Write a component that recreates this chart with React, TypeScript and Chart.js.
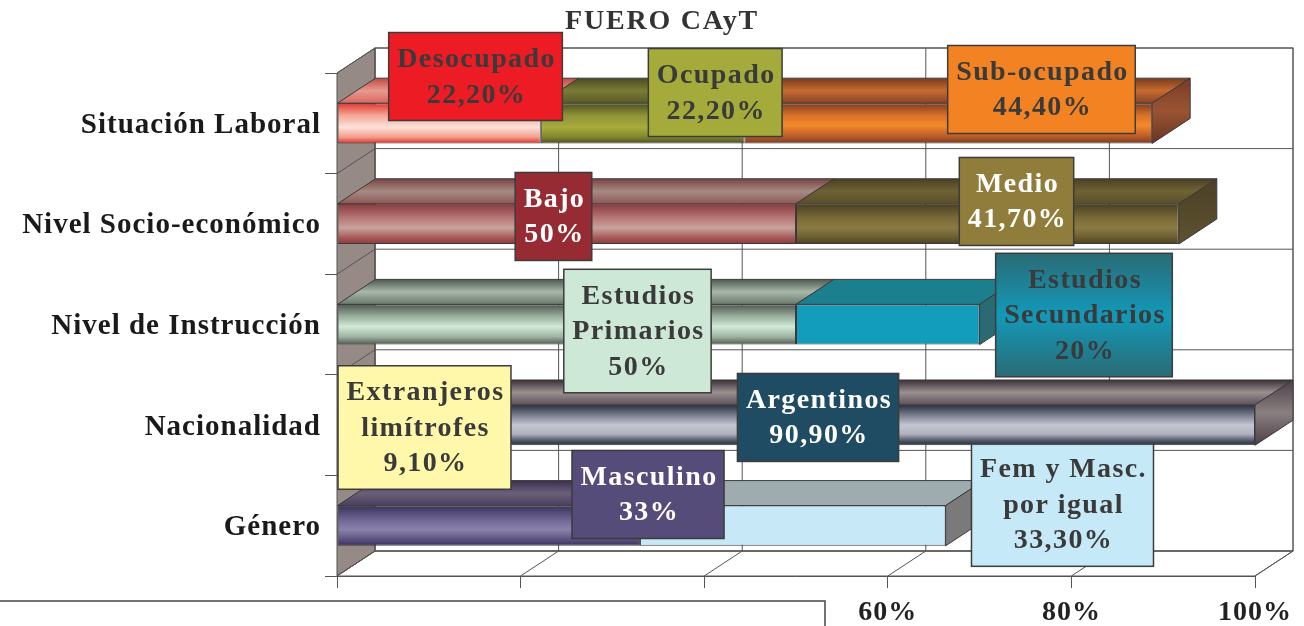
import React, { useEffect, useRef } from 'react';
import { Chart, registerables } from 'chart.js';

Chart.register(...registerables);

// ---------------- DATA ----------------
const chartTitle = 'FUERO CAyT';
const categories = ['Situación Laboral', 'Nivel Socio-económico', 'Nivel de Instrucción', 'Nacionalidad', 'Género'];

const firstNames = ['Desocupado', 'Bajo', 'Estudios\nPrimarios', 'Extranjeros\nlimítrofes', 'Masculino'];
const firstValues = [22.2, 50, 50, 9.1, 33];

const secondNames = ['Ocupado', 'Medio', 'Estudios\nSecundarios', 'Argentinos', 'Fem y Masc.\npor igual'];
const secondValues = [22.2, 41.7, 20, 90.9, 33.3];

const thirdNames: (string | null)[] = ['Sub-ocupado', null, null, null, null];
const thirdValues: (number | null)[] = [44.4, null, null, null, null];

const xTickValues = [0, 20, 40, 60, 80, 100];

// ---------------- STYLES ----------------
type Stops = [number, string][] | string;
type SegStyle = { front: Stops; top: Stops; side: Stops; box: Stops; text: string; at: [number, number]; under?: boolean };

const firstStyles: SegStyle[] = [
  { front: [[0, '#e2362e'], [0.3, '#f3a595'], [0.6, '#fde2da'], [0.85, '#f39a88'], [1, '#de2e28']], top: [[0, '#c0483f'], [0.5, '#e89a90'], [1, '#d8685e']], side: '#b84038', box: '#ed1c24', text: '#3a3a3a', at: [15.09, -0.465] },
  { front: [[0, '#8a3a3a'], [0.35, '#b67676'], [0.6, '#c8a29a'], [0.85, '#a65656'], [1, '#8a3a3a']], top: [[0, '#7a4444'], [0.5, '#a68a84'], [1, '#8e5656']], side: '#7a4040', box: '#962b33', text: '#ffffff', at: [23.58, 0.926] },
  { front: [[0, '#4e5a50'], [0.3, '#9aae9e'], [0.55, '#d0ead6'], [0.8, '#a0b4a4'], [1, '#4e5a50']], top: [[0, '#4e5a50'], [0.5, '#a8b8aa'], [1, '#6a786c']], side: '#6a786c', box: '#cde8d6', text: '#3a3a3a', at: [32.73, 2.065] },
  { front: '#fff6a8', top: '#e2da92', side: '#d0c880', box: '#fff8aa', text: '#3a3a3a', at: [9.53, 3.024] },
  { front: [[0, '#3a3258'], [0.4, '#766c9c'], [0.6, '#8a82aa'], [0.85, '#5a5080'], [1, '#3a3258']], top: [[0, '#3a3050'], [0.5, '#6a6078'], [1, '#4a4060']], side: '#4a4060', box: '#554c7a', text: '#ffffff', at: [33.88, 3.69] },
];

const secondStyles: SegStyle[] = [
  { front: [[0, '#4e4e24'], [0.3, '#8e9236'], [0.6, '#a8ac3c'], [0.85, '#80842f'], [1, '#4e4e24']], top: [[0, '#4a4a22'], [0.5, '#7a7c34'], [1, '#5a5a28']], side: '#5a5a28', box: '#a4ab3a', text: '#3a3a3a', at: [41.2, -0.306] },
  { front: [[0, '#4a3e20'], [0.35, '#7a6a38'], [0.6, '#8a7a42'], [0.85, '#6a5c30'], [1, '#4a3e20']], top: [[0, '#4a4024'], [0.5, '#6e6234'], [1, '#5a4e2a']], side: [[0, '#4a4024'], [1, '#5e5230']], box: '#917d3b', text: '#ffffff', at: [74.02, 0.777] },
  { front: '#139dbd', top: '#1b7f8d', side: '#2a6a72', box: [[0, '#2a6b74'], [0.5, '#1399b9'], [1, '#2a6b74']], text: '#3a3a3a', at: [81.37, 1.906] },
  { front: [[0, '#2a3040'], [0.2, '#6a6e80'], [0.5, '#c4c6d2'], [0.72, '#b0b2c0'], [0.9, '#4a5060'], [1, '#2a3040']], top: [[0, '#3a3038'], [0.5, '#9a9090'], [1, '#5a5058']], side: [[0, '#4a4048'], [0.5, '#8a8080'], [1, '#4a4048']], box: '#1f4c63', text: '#ffffff', at: [52.4, 2.924] },
  { front: '#c6e8f7', top: '#9eacb0', side: '#7a7a7a', box: '#c6e9f8', text: '#3a3a3a', at: [79.03, 3.79], under: true },
];

const thirdStyles: (SegStyle | null)[] = [
  { front: [[0, '#7a3c20'], [0.3, '#d8702a'], [0.55, '#f48a2a'], [0.8, '#c0602a'], [1, '#7a3c20']], top: [[0, '#7a3c20'], [0.5, '#c86a30'], [1, '#8a4428']], side: [[0, '#7a3c24'], [0.5, '#9a5434'], [1, '#6a3420']], box: '#f38322', text: '#3a3a3a', at: [76.74, -0.336] },
  null, null, null, null,
];

const seriesValues = [firstValues, secondValues, thirdValues];
const seriesNames = [firstNames, secondNames, thirdNames];
const seriesStyles = [firstStyles, secondStyles, thirdStyles];

const FONT = '"Liberation Serif", "Times New Roman", serif';
const DX = 38;
const DY = 25;
const BAR_PCT = 0.4;
const LINE = '#555555';

const pct = (v: number) => (Number.isInteger(v) ? `${v}%` : `${v.toFixed(2).replace('.', ',')}%`);

function fillOf(ctx: CanvasRenderingContext2D, y0: number, y1: number, stops: Stops) {
  if (typeof stops === 'string') return stops;
  const g = ctx.createLinearGradient(0, y0, 0, y1);
  stops.forEach(([o, c]) => g.addColorStop(o, c));
  return g;
}

function poly(ctx: CanvasRenderingContext2D, pts: number[][], fill: any, stroke = '#3a3a3a') {
  ctx.beginPath();
  pts.forEach(([px, py], k) => (k ? ctx.lineTo(px, py) : ctx.moveTo(px, py)));
  ctx.closePath();
  if (fill) {
    ctx.fillStyle = fill;
    ctx.fill();
  }
  ctx.strokeStyle = stroke;
  ctx.lineWidth = 1;
  ctx.stroke();
}

function drawBox(chart: any, st: SegStyle, name: string, value: number) {
  const { ctx, scales } = chart;
  const cx = scales.x.getPixelForValue(st.at[0]);
  const cy = scales.y.getPixelForValue(st.at[1]);
  const lines = [...name.split('\n'), pct(value)];
  ctx.save();
  ctx.letterSpacing = '1.4px';
  ctx.font = `bold 28px ${FONT}`;
  const w = Math.max(...lines.map((l) => ctx.measureText(l).width)) + 15;
  const lh = 35.5;
  const h = lines.length * lh + 17;
  const x0 = cx - w / 2;
  const y0 = cy - h / 2;
  ctx.fillStyle = fillOf(ctx, y0, y0 + h, st.box);
  ctx.fillRect(x0, y0, w, h);
  ctx.strokeStyle = '#3c3c3c';
  ctx.lineWidth = 1.5;
  ctx.strokeRect(x0, y0, w, h);
  ctx.fillStyle = st.text;
  ctx.textAlign = 'center';
  ctx.textBaseline = 'middle';
  lines.forEach((l, k) => ctx.fillText(l, cx + 1, cy + (k - (lines.length - 1) / 2) * lh + 1));
  ctx.restore();
}

function forEachSeg(chart: any, cb: (st: SegStyle, name: string, value: number, el: any, isLast: boolean) => void) {
  categories.forEach((_, i) => {
    let last = -1;
    seriesValues.forEach((vals, d) => {
      if (vals[i] != null) last = d;
    });
    seriesValues.forEach((vals, d) => {
      const v = vals[i];
      const st = seriesStyles[d][i];
      if (v == null || !st) return;
      const el = chart.getDatasetMeta(d).data[i];
      cb(st, seriesNames[d][i] as string, v, el, d === last);
    });
  });
}

const threeD = {
  id: 'threeD',
  beforeDraw(chart: any) {
    chart.ctx.letterSpacing = '1px';
  },
  beforeDatasetsDraw(chart: any) {
    const { ctx, chartArea: a, scales } = chart;
    ctx.save();
    ctx.letterSpacing = '0px';
    // back wall
    ctx.fillStyle = '#ffffff';
    ctx.fillRect(a.left + DX, a.top - DY, a.width, a.height);
    // left wall
    poly(ctx, [[a.left, a.top], [a.left + DX, a.top - DY], [a.left + DX, a.bottom - DY], [a.left, a.bottom]], '#958a85', LINE);
    // floor
    poly(ctx, [[a.left, a.bottom], [a.left + DX, a.bottom - DY], [a.right + DX, a.bottom - DY], [a.right, a.bottom]], '#ffffff', LINE);
    ctx.strokeStyle = LINE;
    ctx.lineWidth = 1;
    for (let i = 0; i <= categories.length; i++) {
      const yb = scales.y.getPixelForValue(i - 0.5);
      ctx.beginPath();
      ctx.moveTo(a.left, yb);
      ctx.lineTo(a.left + DX, yb - DY);
      ctx.lineTo(a.right + DX, yb - DY);
      ctx.stroke();
    }
    xTickValues.forEach((v) => {
      const px = scales.x.getPixelForValue(v);
      ctx.beginPath();
      ctx.moveTo(px, a.bottom);
      ctx.lineTo(px + DX, a.bottom - DY);
      ctx.lineTo(px + DX, a.top - DY);
      ctx.stroke();
    });
    ctx.strokeRect(a.left + DX, a.top - DY, a.width, a.height);

    // 3D faces of bars
    forEachSeg(chart, (st, name, value, el, isLast) => {
      const p = el.getProps(['x', 'y', 'base', 'height'], true);
      const yt = p.y - p.height / 2;
      const yb = p.y + p.height / 2;
      const x0 = Math.min(p.base, p.x);
      const x1 = Math.max(p.base, p.x);
      poly(ctx, [[x0, yt], [x0 + DX, yt - DY], [x1 + DX, yt - DY], [x1, yt]], fillOf(ctx, yt - DY, yt, st.top));
      if (isLast) {
        poly(ctx, [[x1, yt], [x1 + DX, yt - DY], [x1 + DX, yb - DY], [x1, yb]], fillOf(ctx, yt - DY, yb, st.side));
      }
    });
    // boxes lying behind bars
    forEachSeg(chart, (st, name, value) => {
      if (st.under) drawBox(chart, st, name, value);
    });
    ctx.restore();
  },
  afterDatasetsDraw(chart: any) {
    forEachSeg(chart, (st, name, value) => {
      if (!st.under) drawBox(chart, st, name, value);
    });
  },
  afterDraw(chart: any) {
    const { ctx } = chart;
    ctx.save();
    // title
    ctx.letterSpacing = '1.8px';
    ctx.font = `bold 28px ${FONT}`;
    ctx.fillStyle = '#333333';
    ctx.textAlign = 'center';
    ctx.textBaseline = 'middle';
    ctx.fillText(chartTitle, 662, 22);
    // empty framed box at the lower left
    ctx.fillStyle = '#ffffff';
    ctx.fillRect(-2, 601, 827, 40);
    ctx.strokeStyle = '#444444';
    ctx.lineWidth = 1.5;
    ctx.beginPath();
    ctx.moveTo(-2, 601);
    ctx.lineTo(825, 601);
    ctx.lineTo(825, 640);
    ctx.stroke();
    ctx.restore();
  },
};

function barFill(d: number) {
  return (c: any) => {
    const chart = c.chart;
    const st = seriesStyles[d][c.dataIndex];
    if (!st) return 'transparent';
    if (!chart.chartArea || typeof st.front === 'string') return typeof st.front === 'string' ? st.front : '#999';
    const yc = chart.scales.y.getPixelForValue(c.dataIndex);
    const h = (chart.chartArea.height / categories.length) * BAR_PCT;
    return fillOf(chart.ctx, yc - h / 2, yc + h / 2, st.front);
  };
}

export default function App() {
  const ref = useRef<HTMLCanvasElement>(null);
  useEffect(() => {
    document.body.style.margin = '0';
    Chart.defaults.font.family = FONT;
    const chart = new Chart(ref.current as HTMLCanvasElement, {
      type: 'bar',
      data: {
        labels: categories,
        datasets: seriesValues.map((vals, d) => ({
          label: `serie ${d + 1}`,
          data: vals as any,
          backgroundColor: barFill(d) as any,
          borderColor: '#3a3a3a',
          borderWidth: 1,
          borderSkipped: false,
          barPercentage: BAR_PCT,
          categoryPercentage: 1,
        })),
      },
      options: {
        indexAxis: 'y',
        animation: false,
        responsive: true,
        maintainAspectRatio: false,
        layout: { padding: { left: 0, right: 49, top: 73, bottom: 0 } },
        plugins: {
          legend: { display: false },
          tooltip: { enabled: false },
          title: { display: false },
        },
        scales: {
          x: {
            stacked: true,
            min: 0,
            max: 100,
            afterFit: (s: any) => {
              s.height = 50;
            },
            afterBuildTicks: (s: any) => {
              s.ticks = xTickValues.map((v) => ({ value: v }));
            },
            ticks: {
              callback: (v: any) => `${v}%`,
              color: '#222222',
              font: { family: FONT, size: 28, weight: 'bold' },
              padding: 8,
              maxRotation: 0,
            },
            grid: { drawOnChartArea: false, drawTicks: true, tickLength: 12, color: LINE },
            border: { display: true, color: LINE },
          },
          y: {
            stacked: true,
            afterFit: (s: any) => {
              s.width = 337;
            },
            ticks: {
              color: '#1a1a1a',
              font: { family: FONT, size: 29, weight: 'bold' },
              padding: 4,
              labelOffset: 2,
            },
            grid: { drawOnChartArea: false, drawTicks: true, tickLength: 12, color: LINE, offset: true },
            border: { display: true, color: LINE },
          },
        },
      },
      plugins: [threeD],
    } as any);
    return () => chart.destroy();
  }, []);
  return (
    <div style={{ position: 'fixed', left: 0, top: 0, width: 1304, height: 626, background: '#ffffff' }}>
      <canvas ref={ref} />
    </div>
  );
}
